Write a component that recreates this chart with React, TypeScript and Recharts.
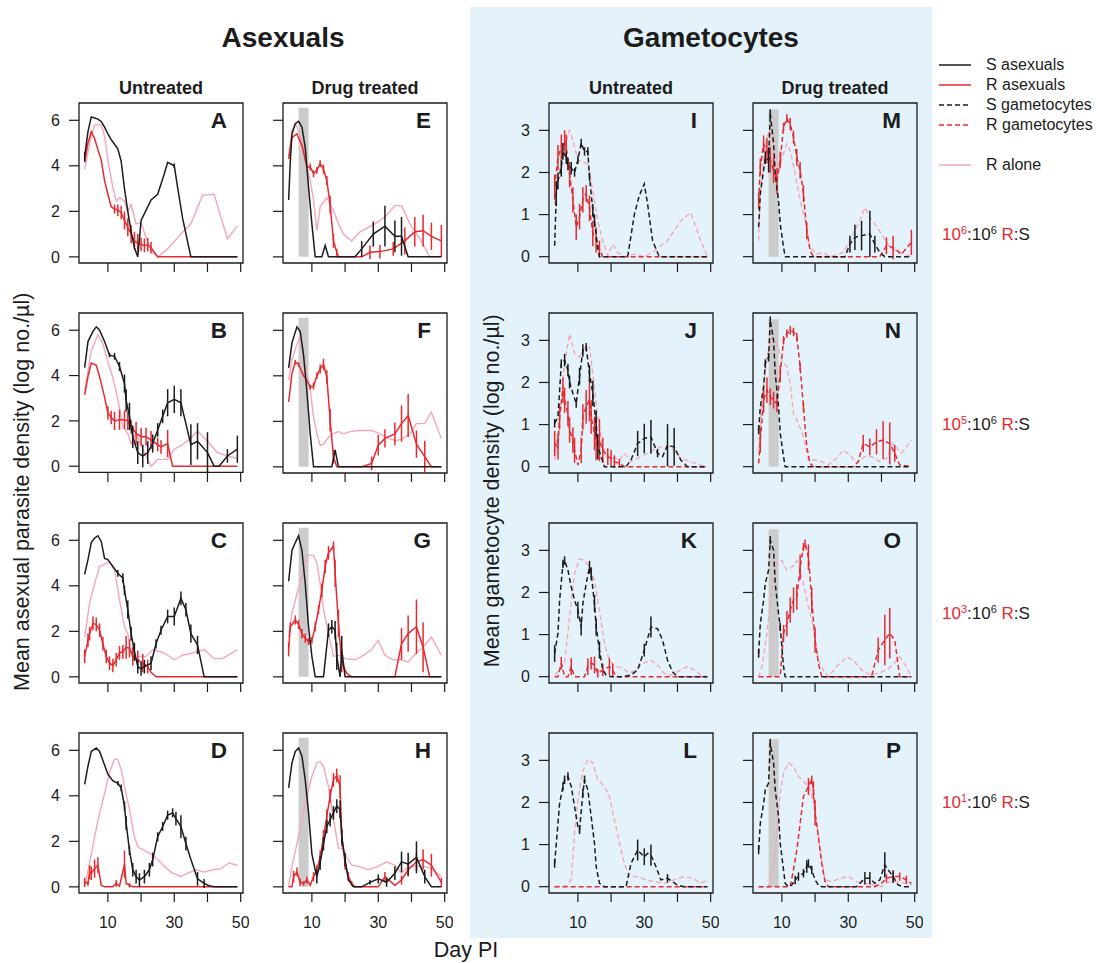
import React from "react";
import { LineChart, Line, XAxis, YAxis, ReferenceArea, ErrorBar } from "recharts";

// each point: [day PI, mean log density, error half-width]
const aS = [[3,4.4,0.2],[4,5.5],[5,6.15],[6,6.1],[7,6.05],[8,5.95],[9,5.7],[10,5.4],[11,5.15],[12,4.95],[13,4.75],[14,4.2],[15,3.0],[16,2.0],[17,1.1],[18,0.4],[19,0],[20,1.6],[21,1.9],[23,2.5],[25,2.75],[27,3.65],[28,4.15],[30,4.0,0.1],[31,3.05],[32.5,1.7],[35,0],[37,0],[39,0],[41,0],[43,0],[45,0],[47,0],[49,0]];
const aR = [[3,4.15],[4,5.0],[5,5.5],[6,5.2],[7,4.7],[8,4.25],[9,3.35],[10,2.75],[11,2.2],[12,2.1,0.2],[13,2.05,0.25],[14,1.95,0.3],[15,1.6,0.4],[16,1.3,0.4],[17,1.0,0.4],[18,0.7,0.4],[19,0.6,0.4],[20,0.55,0.3],[21,0.5,0.3],[22,0.53,0.3],[23,0.4,0.25],[25,0],[28,0],[31,0],[34,0],[37,0],[40,0],[43,0],[46,0],[49,0]];
const aAlone = [[3,3.85],[5,5.3],[6,5.8],[8,5.8],[9,5.3],[10,4.25],[11.5,3.05],[12.5,2.45],[13.5,2.6],[15,2.45],[16,2.0],[17,2.3],[18.5,1.45],[20,1.5],[21.5,0.85],[23,0.25],[25,0],[28,0.35],[32,1.0],[35,1.45],[38.5,2.7],[42,2.75],[46,0.8],[49,1.35]];

const bS = [[3,4.35],[4,5.5],[5.5,5.95],[6.5,6.15],[7.5,6.0],[9,5.5],[10.5,4.9,0.1],[12,4.85,0.15],[13.5,4.4,0.2],[15,3.65,0.4],[15.5,2.9,0.5],[16.5,2.2,0.6],[17.5,1.3,0.5],[19,0.6,0.5],[20.5,0.45,0.5],[22,0.6,0.5],[23.5,1.0,0.4],[25,1.6,0.3],[26.5,2.2,0.3],[28,2.8,0.6],[30,2.95,0.6],[32,2.8,0.6],[35,0.95,0.9],[37,1.1,0.8],[40,0.6,0.9],[42,0],[43.5,0],[46,0.45,0.3],[49,0.75,0.6]];
const bR = [[3,3.15],[4,3.95],[5,4.55],[6.5,4.45],[7.5,3.95],[9,3.05],[10,2.35,0.3],[11,2.15,0.3],[12,2.0,0.4],[13.5,2.05,0.45],[15,2.05,0.4],[16,2.0,0.4],[17,1.75,0.3],[18.5,1.45,0.5],[20,1.3,0.4],[21.5,1.3,0.4],[23,1.15,0.4],[25,0.95,0.3],[26,0.85,0.3],[28,1.0,0.6],[29.5,0],[32,0],[35,0],[38,0],[41,0],[44,0],[47,0],[49,0]];
const bAlone = [[3,3.3],[5,5.1],[7,5.8],[8.5,5.4],[10,4.6],[11.5,3.9],[13,2.95],[14.5,1.75],[16,1.45],[17,1.0],[18.5,1.45],[20,0.9],[21.5,0.45],[23,0],[25,0.3],[28,0.3],[30,0.75],[32.5,0.95],[35,1.25],[37,1.55],[40,1.1],[43,0.6],[46,0.45],[49,0.35]];

const cS = [[3,4.5],[4,5.15],[5,5.9],[6,6.1],[7,6.2],[8,5.95],[9,5.2],[10,5.15],[11.5,4.85],[13,4.55,0.15],[14.5,4.35,0.2],[15,3.8,0.2],[16,2.95,0.4],[17,1.9,0.3],[18,1.1,0.4],[19,0.45,0.3],[20,0.35,0.3],[21,0.45,0.3],[23,0.6,0.3],[24.5,1.45,0.2],[26,2.05,0.2],[28,2.65,0.3],[30,2.65,0.4],[32,3.45,0.3],[33.5,2.95,0.3],[35,1.9,0.4],[37,1.4,0.4],[39,0],[41,0],[43,0],[45,0],[47,0],[49,0]];
const cR = [[3,0.9,0.3],[4,1.6,0.3],[4.5,1.9,0.3],[5.5,2.35,0.3],[6.5,2.3,0.3],[7.5,2.05,0.3],[8.5,1.45,0.3],[9.5,0.9,0.3],[10.5,0.6,0.3],[11.5,0.5,0.3],[12.5,0.75,0.3],[13.5,1.05,0.3],[14.5,1.1,0.3],[15.5,1.3,0.5],[16.5,1.25,0.4],[17.5,0.9,0.4],[19,0.75,0.4],[20.5,0.6,0.4],[22,0.45,0.3],[23,0.2],[24.5,0],[27,0],[30,0],[33,0],[36,0],[39,0],[42,0],[45,0],[49,0]];
const cAlone = [[3,1.75],[4.5,3.25],[6,4.1],[7.5,4.85],[9,4.95],[10.5,5.05],[12,4.7],[13.5,3.4],[15,2.2],[16,1.9],[17.5,0.75],[19.5,0.9],[21.5,0.9],[23.5,1.2],[27,1.05],[30,0.75],[32.5,0.95],[35.5,1.05],[39,1.2],[42,0.8],[44.5,0.8],[49,1.2]];

const dS = [[3,4.5],[4,5.3],[5,5.95],[6.5,6.1],[7.5,5.95],[9,5.35],[10,4.95],[11.5,4.65],[13,4.55,0.1],[14,4.35,0.15],[15,3.55,0.2],[15.5,2.8,0.3],[16.5,1.6,0.2],[17.5,0.75,0.3],[18.5,0.45,0.3],[19.5,0.3,0.3],[21,0.45,0.3],[22.5,0.75,0.3],[23.5,1.2,0.3],[25,2.2,0.2],[26.5,2.65,0.2],[28,3.15,0.2],[29.5,3.25,0.2],[30.5,3.0,0.3],[32,2.65,0.5],[33.5,1.9,0.3],[35,1.2],[37,0.35,0.3],[39,0.15,0.2],[40.5,0.05],[42,0],[45,0],[49,0]];
const dR = [[3,0.2,0.2],[4,0.15,0.1],[4.5,0.65,0.3],[5,0.6,0.3],[6,0.8,0.4],[7,0.95,0.35],[8,0.07],[9,0],[11.5,0],[12.5,0.15,0.15],[13.5,0.03],[15,1.0,0.6],[15.5,0.15],[16.5,0.07,0.1],[17.5,0],[20,0],[25,0],[30,0],[35,0],[40,0],[45,0],[49,0]];
const dAlone = [[3,0],[4.5,1.05],[6,2.2],[7.5,3.25],[9,4.1],[10.5,5.05],[12,5.6],[13,5.6],[14,5.15],[15,4.4],[16.5,3.4],[18,2.2],[19,1.75],[21,1.6],[23,1.45],[25,1.2],[27,0.9],[29,0.65],[32,0.45],[34,0.6],[36.5,0.75],[39,0.65],[41.5,0.75],[44,0.8],[46.5,1.05],[49,0.95]];

const eS = [[3,2.5],[3.5,4.2],[4,5.4],[5,5.85],[6,5.95],[7,5.7],[8,4.8],[9,3.05],[10,1.45],[11,0],[13,0],[14,0.5],[15,0],[17,0],[19,0],[21,0],[23,0],[25,0.35,0.35],[28.5,1.0,0.55],[32,1.35,0.9],[35,0.9,0.7],[37,0.9,0.85],[39,0],[41,0],[43,0],[45,0],[47,0],[49,0]];
const eR = [[3,4.3],[4,5.25],[5.5,5.4],[7,4.9],[8.5,3.95],[9.5,3.95,0.15],[10.5,3.65,0.15],[11.5,3.8,0.15],[12.5,4.1,0.15],[13.5,3.85,0.2],[14.5,3.35,0.2],[15.5,2.3,0.4],[16.5,0.7,0.3],[17.5,0.2,0.15],[18,0],[20,0],[22,0],[25,0],[27.5,0.2,0.3],[30.5,0.23,0.3],[34.5,0.35,0.3],[38,0.7,0.6],[41,1.1,0.65],[43.5,1.15,0.7],[46,0.9,0.6],[49,0.7,0.7]];
const eAlone = [[3,4.4],[4,5.55],[5,5.85],[6,5.55],[7.5,4.8],[8.5,3.95],[9.5,3.35],[10.5,2.5],[11.5,1.15],[12.5,2.2],[14.5,2.6],[16.5,2.05],[18,1.45],[19.5,1.0],[22,0.7],[24.5,1.1],[29,1.45],[32,1.75],[35,2.25],[37,2.25],[39.5,1.45],[42.5,0.8],[45.5,0],[49,0]];

const fS = [[3,4.35],[4,5.45],[5.5,6.15],[6.5,5.95],[7.5,4.9],[8.5,3.3],[9.5,1.45],[10.5,0],[12,0],[14,0],[16,0],[17,0.75],[18,0],[20,0],[23,0],[26,0],[29,0],[32,0],[35,0],[38,0],[41,0],[44,0],[47,0],[49,0]];
const fR = [[3,2.85],[4,4.1],[5,4.6,0.1],[6,4.5,0.1],[7.5,4.0],[8.5,3.8],[9.5,3.5,0.1],[10.5,3.55,0.15],[11.5,4.0,0.15],[12.5,4.3,0.2],[13.5,4.5,0.25],[14.5,3.95,0.3],[15.5,2.05,0.5],[16.5,0.45,0.3],[17.5,0],[20,0],[25,0],[28,0.15,0.3],[30,0.95,0.45],[32,1.25,0.4],[35,1.45,0.5],[37,1.9,0.8],[39,2.25,0.95],[41.5,1.0,0.6],[44,0.45,0.7],[46,0],[49,0]];
const fAlone = [[3,3.8],[4,4.7],[5.5,5.4],[6.5,5.7],[7.5,4.8],[8.5,4.1],[9.5,3.35],[10.5,2.2],[11.5,1.45],[12.5,0.95],[13.5,1.0],[15,1.3],[16.5,1.45],[18,1.55],[19.5,1.45],[21.5,1.55],[24,1.6],[28,1.6],[30.5,1.45],[33,1.25],[35.5,1.15],[37.5,1.25],[39.5,1.45],[41.5,1.9],[44,1.9],[46,2.4],[49,1.25]];

const gS = [[3,4.2],[4,5.55],[5,5.9],[6,6.2],[7,5.55],[8,4.1],[9,2.2],[10,0.9],[11,0],[13.5,0],[15,2.05,0.3],[16,2.2,0.3],[17,2.05,0.4],[17.5,0.9,0.6],[18.5,0],[19,1.2,0.6],[20,0],[23,0],[26,0],[29,0],[32,0],[35,0],[38,0],[41,0],[44,0],[47,0],[49,0]];
const gR = [[3,1.2,0.3],[3.5,2.2,0.2],[5,2.5,0.2],[6,2.3,0.2],[7,1.9,0.2],[8,1.7,0.2],[9,1.55,0.15],[10,1.6,0.15],[11,2.2,0.2],[12,2.95,0.2],[13,3.8,0.3],[14,4.85,0.3],[15,5.45,0.3],[16.5,5.75,0.2],[17,4.55,0.6],[18,2.35,0.6],[19,0.6,0.4],[20.5,0.15],[22,0],[25,0],[28,0],[31,0],[35,0],[37,1.45,0.7],[39,1.9,0.8],[41.5,2.2,1.2],[43.5,1.3,1.1],[45.5,0],[49,0]];
const gAlone = [[3,1.75],[4,2.8],[5.5,3.65],[7,4.4],[8,5.05],[9,5.35],[10.5,5.35],[11.5,5.0],[12.5,4.1],[13.5,2.95],[15,1.9],[16.5,0.9],[18,0.95],[20,0.8],[23,0.75],[25,0.9],[28,1.2],[30,1.6],[32,0.95],[34.5,0.75],[37,0.75],[39,0.65],[41.5,1.05],[43.5,1.3],[46,1.75],[49,0.95]];

const hS = [[3,4.35],[4,5.45],[5,5.95],[6,6.1],[7,5.75],[8,4.7],[9,3.25],[10,1.45],[11,0.75],[11.5,0.45,0.3],[12.5,1.05,0.3],[13.5,1.9,0.3],[14.5,2.65,0.3],[15.5,2.95,0.3],[16.5,3.25,0.3],[17.5,3.55,0.3],[18.5,3.4,0.4],[19,2.2,0.3],[20,1.2,0.3],[21,0.3],[22.5,0],[25,0],[27.5,0.2,0.1],[30,0.35,0.2],[32.5,0.2,0.2],[35,0.6,0.3],[37,1.1,0.45],[39,1.0,0.5],[41.5,1.3,0.7],[44,0.45,0.3],[46,0],[49,0]];
const hR = [[3,0],[4,0],[4.5,0.45,0.25],[5.5,0.65,0.2],[6.5,0.2,0.15],[7.5,0.15,0.1],[8.5,0.3,0.15],[9.5,0.07],[10.5,0.45,0.2],[11.5,0.75,0.2],[12.5,1.3,0.3],[13.5,2.2,0.3],[14.5,3.1,0.3],[15.5,4.0,0.3],[16.5,4.7,0.3],[17.5,4.9,0.3],[18.5,4.4,0.5],[19,2.2,0.4],[20,1.05,0.3],[21,0.45,0.2],[22,0.15,0.1],[23,0],[26,0],[30,0],[32,0.45,0.2],[35,0.07],[37,0.3,0.2],[39,0.75,0.3],[41.5,1.1,0.4],[43.5,1.2,0.45],[46,0.95,0.5],[49,0.2,0.2]];
const hAlone = [[3,0],[4,0.9],[5.5,1.9],[7,2.95],[8.5,4.0],[10,4.85],[11.5,5.45],[12.5,5.5],[13.5,5.3],[15,4.4],[16.5,2.95],[18,1.7],[19,1.7],[20.5,1.3],[22,0.95],[24,0.9],[27,0.75],[30,0.9],[32.5,1.1],[35,0.95],[37,0.6],[39,0.9],[41.5,0.9],[44,0.9],[46,0.8],[49,0.45]];

const iS = [[3,0.26],[3.5,1.5,0.3],[4,1.8,0.2],[5,2.1,0.2],[5.5,2.5,0.2],[6.5,2.35,0.15],[7,2.2,0.15],[8,2.1,0.15],[9,2.0,0.1],[10,2.3,0.1],[11,2.7,0.1],[12,2.5,0.1],[13,2.5,0.1],[13.5,1.9,0.1],[14.5,1.1,0.15],[15,0.85,0.15],[16,0.2],[16.5,0],[19,0],[22,0],[25,0],[27,1.0],[28.5,1.45],[30,1.73],[31,1.25],[32.5,0.38],[34.5,0],[37,0],[40,0],[43,0],[46,0],[49,0]];
const iR = [[3,1.65,0.3],[4,2.35,0.3],[5,2.6,0.3],[6,2.75,0.25],[6.5,2.6,0.3],[7.5,1.95,0.3],[8.5,1.35,0.3],[9.5,0.7,0.3],[10.5,0.95,0.3],[11.5,1.35,0.3],[12.5,1.5,0.2],[13.5,1.15,0.3],[14.5,0.55,0.3],[15.5,0.4,0.3],[16.5,0.18,0.2],[17.5,0],[20,0],[25,0],[30,0],[35,0],[40,0],[45,0],[49,0]];
const iAlone = [[3,1.25],[4.5,2.05],[6,2.6],[7.5,3.0],[8.5,2.75],[10,2.3],[11.5,2.25],[13,2.2],[14.5,1.55],[16,0.85],[17.5,0.38],[19,0.02],[20.5,0.3],[22,0.1],[24,0],[27,0.06],[30,0],[33,0.14],[37,0.38],[41,0.85],[44,1.05],[47,0.38],[49,0]];

const jS = [[3,1.03,0.1],[4,1.18],[5,2.45,0.1],[6,2.53,0.15],[7,2.29,0.15],[7.5,2.01,0.15],[8.5,1.74],[9.5,1.5,0.1],[10.5,2.15,0.2],[11.5,2.76,0.15],[12.5,2.84,0.1],[13.5,2.21,0.2],[14.5,1.74,0.3],[15.5,1.03,0.3],[16,0.47,0.3],[17,0.24],[18,0],[21,0],[24.5,0],[26,0.16],[28,0.55,0.3],[30,0.67,0.35],[32,0.71,0.4],[34,0.32,0.1],[35.5,0.24],[37,0.51,0.5],[39,0.47,0.45],[41,0.16],[43,0],[46,0],[49,0]];
const jR = [[3,0.55,0.3],[4,0.47,0.3],[4.5,1.18,0.3],[5.5,1.82,0.3],[6,1.58,0.3],[7,1.26,0.3],[7.5,0.87,0.3],[8.5,0.63,0.3],[9,0.39,0.3],[10,0.04],[11,0.39,0.3],[11.5,1.18,0.3],[12.5,1.42,0.4],[13.5,1.58,0.5],[14,1.18,0.4],[15,0.79,0.4],[15.5,0.55,0.4],[16.5,0.63,0.5],[17.5,0.39,0.3],[19,0.24,0.2],[20,0.2,0.2],[21,0.12,0.15],[22.5,0.08,0.1],[24,0],[28,0],[32,0],[36,0],[40,0],[44,0],[49,0]];
const jAlone = [[3,0.16],[4.5,1.18],[6,2.45],[7.5,3.16],[9,2.68],[10.5,2.6],[12,2.84],[13.5,2.84],[14.5,2.21],[16,1.18],[17.5,0.47],[19,0.2],[21,0.2],[22.5,0.16],[24,0.32],[26,0.12],[28,0.2],[30,0.28],[32.5,0.39],[35,0.47],[38,0.47],[41,0.2],[44,0.12],[47,0.04],[49,0]];

const kS = [[3,0.55,0.2],[4,1.03],[4.5,1.82],[5.5,2.68,0.1],[6,2.76,0.1],[7,2.53],[8,2.13],[9,1.82],[10,1.58,0.2],[11,1.18,0.2],[11.5,1.74],[12.5,2.21],[13.5,2.6,0.15],[14,2.45,0.15],[15,1.74,0.2],[15.5,1.18,0.2],[16.5,0.63,0.2],[17.5,0.16],[18.5,0.04],[20,0],[23.5,0],[26,0.04],[28,0.16],[30,0.63,0.15],[32,1.18,0.25],[34,1.14],[35.5,0.87],[37,0.39],[38.5,0.12],[40,0],[43,0],[46,0],[49,0]];
const kR = [[3,0],[4,0],[5,0.32,0.15],[6,0],[7,0],[8,0.24,0.2],[9,0],[11,0],[12,0],[13,0.24,0.2],[14,0.32,0.15],[15,0.28,0.2],[16,0.08,0.1],[17.5,0.16,0.15],[19.5,0.24,0.2],[20.5,0.16,0.15],[21.5,0],[25,0],[30,0],[35,0],[40,0],[45,0],[49,0]];
const kAlone = [[3,0.04],[4.5,0.16],[6,0.32],[7.5,1.42],[9,2.45],[10.5,2.8],[12,2.76],[13.5,2.6],[15,2.29],[16.5,1.58],[18,0.79],[19.5,0.39],[21.5,0.24],[23.5,0.2],[25.5,0.08],[27.5,0.16],[29.5,0.32],[32,0.39],[34,0.28],[36,0.08],[38,0.04],[40,0.12],[43,0.24],[45,0.16],[47,0.04],[49,0]];

const lS = [[3,0.55,0.1],[4,1.5],[4.5,1.98],[5.5,2.38,0.1],[6,2.54,0.1],[7,2.62,0.1],[8,2.38],[9,1.9],[10,1.43],[10.5,1.35,0.1],[11.5,2.22,0.1],[12,2.54,0.1],[13,2.3],[14,1.67],[15,1.03],[15.5,0.48],[16.5,0.08],[18,0],[21,0],[24.5,0],[26,0.55],[28,0.87,0.25],[29,0.79],[30,0.71,0.2],[31,0.79],[32,0.75,0.25],[33.5,0.48],[35,0.16],[37,0.2,0.1],[38.5,0.12],[40,0.04],[42,0],[45,0],[49,0]];
const lR = [[3,0],[10,0],[20,0],[30,0],[40,0],[49,0]];
const lAlone = [[3,0],[6.5,0.02],[8,0.16],[9,1.27],[10,2.06],[11.5,2.75],[13,3.02],[14.5,2.94],[16,2.54],[18,2.38],[19.5,2.14],[21,1.59],[22.5,1.03],[24,0.55],[25.5,0.24],[28,0.24],[30.5,0.16],[33,0.12],[36,0.08],[39,0.16],[42,0.24],[44.5,0.2],[47,0.08],[49,0.16]];

const mS = [[3,0.7],[3.5,1.5],[4.5,2.05],[5,2.35,0.15],[6,2.3,0.3],[6.5,3.4,0.1],[7.5,2.7],[8,1.95],[9,1.33],[9.5,0.78],[10.5,0.22],[11,0],[14,0],[17,0],[20,0],[23,0],[26,0],[29,0],[30.5,0.3,0.2],[32,0.46,0.3],[34,0.5,0.35],[36.5,0.54,0.55],[38,0.3,0.2],[39.5,0.1],[41,0],[44,0],[47,0],[49,0]];
const mR = [[3,1.33,0.2],[3.5,2.13,0.2],[4.5,2.68,0.2],[5.5,2.52,0.3],[6.5,2.3,0.3],[7.5,2.05,0.3],[8.5,1.8,0.3],[9.5,2.3,0.2],[10.5,3.08,0.1],[11.5,3.28,0.1],[12.5,3.15,0.15],[13.5,2.84,0.15],[14.5,2.36,0.2],[15.5,2.05,0.2],[16.5,1.5,0.2],[17.5,0.62,0.2],[18.5,0.14],[19.5,0],[23,0],[27,0],[31,0],[35,0],[39.5,0],[41.5,0.26,0.2],[43.5,0.22,0.28],[46,0.06],[49,0.34,0.3]];
const mAlone = [[3,0.38],[3.5,1.5],[4.5,2.3],[5.5,2.84],[6.5,3.0],[7.5,2.6],[9,2.05],[10.5,2.45],[11.5,2.68],[12.5,2.52],[14,1.97],[15.5,1.33],[17,0.86],[18.5,0.22],[20.5,0.06],[22.5,0.1],[24.5,0],[28.5,0.1],[31.5,0.54],[33.5,0.86],[35,1.17],[36.5,0.94],[38,0.78],[40,0.54],[42.5,0.22],[45.5,0.1],[49,0]];

const nS = [[3,0.87,0.1],[3.5,1.42],[4.5,1.89],[5,2.45,0.1],[6,2.6,0.1],[6.5,3.47,0.1],[7.5,3.0],[8,2.21],[9,1.42],[9.5,0.79],[10.5,0.24],[11,0],[15,0],[20,0],[25,0],[30,0],[35,0],[40,0],[45,0],[49,0]];
const nR = [[3,0.08],[3.5,0.63,0.3],[4.5,1.58,0.3],[5.5,1.82,0.3],[6.5,1.66,0.2],[7.5,1.58,0.2],[8.5,1.5,0.2],[9.5,2.21,0.2],[10.5,3.0,0.1],[11.5,3.16,0.1],[12.5,3.24,0.1],[13.5,3.2,0.1],[14.5,3.08,0.1],[15.5,2.37,0.1],[16.5,1.42,0.1],[17.5,0.47],[18.5,0.08],[19.5,0],[23,0],[27,0],[31.5,0],[33,0.12],[34.5,0.55,0.2],[36.5,0.47,0.2],[38.5,0.59,0.3],[40.5,0.63,0.45],[42.5,0.55,0.5],[44,0.32,0.2],[45.5,0.04],[49,0]];
const nAlone = [[3,0.39],[4,1.58],[5.5,2.6],[7,3.08],[8.5,2.92],[10,2.53],[11.5,2.37],[12.5,1.97],[13.5,1.26],[15,1.03],[16.5,0.71],[18,0.16],[20,0.16],[22,0.12],[24,0.04],[26.5,0.2],[28.5,0.39],[30.5,0.28],[32.5,0.08],[35,0.24],[37,0.24],[39.5,0.12],[41.5,0.2],[43.5,0.55],[46,0.32],[49,0.63]];

const oS = [[3,0.55,0.1],[3.5,1.26],[4.5,1.82],[5,2.21],[6,2.53],[6.5,3.24,0.1],[7.5,3.0],[8,2.21],[9,1.5],[9.5,1.18,0.1],[10.5,0.24],[11,0],[15,0],[20,0],[25,0],[30,0],[35,0],[40,0],[45,0],[49,0]];
const oR = [[3,0],[6,0],[9.5,0],[10.5,1.03,0.2],[11.5,1.26,0.3],[12.5,1.58,0.3],[13.5,1.82,0.3],[14.5,1.89,0.3],[15.5,2.6,0.3],[16.5,3.08,0.1],[17,3.16,0.1],[18,2.84,0.3],[19,1.82,0.3],[20,0.87,0.3],[21,0.32],[22,0],[26,0],[30,0],[34,0],[37,0],[39,0.63,0.3],[41,0.87,0.6],[42.5,1.03,0.6],[44,0.87],[45.5,0],[49,0]];
const oAlone = [[3,0],[4,0.24],[5.5,1.03],[7,2.13],[8.5,2.72],[10,2.76],[11.5,2.53],[13,2.6],[14.5,2.76],[16,2.37],[18,1.66],[19.5,1.18],[21,0.39],[22.5,0.16],[24,0],[26.5,0.24],[29.5,0.47],[31.5,0.39],[34,0.16],[36.5,0.04],[39,0.08],[41.5,0.16],[43.5,0.28],[45.5,0.47],[47.5,0.24],[49,0]];

const pS = [[3,0.87,0.1],[3.5,1.5],[4.5,1.98],[5,2.3],[6,2.46],[6.5,3.41,0.1],[7.5,2.94],[8,2.3],[9,1.67],[9.5,1.03],[10.5,0.4],[11,0.08],[12,0],[13,0.04],[14,0.16,0.1],[15,0.24,0.1],[16.5,0.32,0.1],[17.5,0.48,0.15],[18,0.55,0.1],[19,0.4,0.1],[20,0.16],[21,0.04],[22,0],[26,0],[30,0],[32.5,0],[34,0.12],[35,0.2,0.15],[36.5,0.2,0.15],[38,0.08],[39.5,0.16],[41,0.52,0.3],[42,0.4],[43.5,0.24,0.15],[45,0.04],[46.5,0],[49,0]];
const pR = [[3,0],[8,0],[12.5,0],[13.5,0.4],[14.5,0.87],[15.5,1.5],[16.5,2.14],[18,2.38,0.2],[19,2.54,0.1],[19.5,2.3,0.2],[20,1.75,0.3],[21,1.19],[22,0.55],[23,0.12],[24,0],[28,0],[33,0],[38,0],[40,0.08],[41.5,0.2,0.1],[43.5,0.24,0.1],[45.5,0.24,0.1],[47.5,0.16,0.1],[49,0.08]];
const pAlone = [[3,0],[6,0],[7.5,0.48],[8.5,1.27],[9.5,2.22],[10.5,2.7],[12,2.94],[13.5,2.86],[15,2.62],[17,2.46],[18.5,2.34],[20,1.83],[21.5,0.87],[23,0.16],[25,0.12],[27.5,0.2],[30,0.24],[32.5,0.12],[35,0.08],[37.5,0.04],[40,0],[42.5,0.12],[45,0.12],[47.5,0.08],[49,0.04]];

const dayTicks = [10, 20, 30, 40, 50];
const dayLabels = [10, 30, 50];
const asexTicks = [0, 2, 4, 6];
const gamTicks = [0, 1, 2, 3];
const ratioLabels = ["6", "5", "3", "1"];

const BLACK = "#1c1c1c";
const RED = "#e8292f";
const PINK = "#f5a6b8";
const GREY = "#cbcbcb";
const BLUE = "#e4f3fb";
const FONT = "'Liberation Sans', Arial, Helvetica, sans-serif";

const colLeft = [79, 283, 549, 753];
const rowTop = [103, 313, 523, 733];
const BOX_W = 164;
const BOX_H = 160;

const panels = [
  { id: "A", col: 0, row: 0, s: aS, r: aR, alone: aAlone },
  { id: "B", col: 0, row: 1, s: bS, r: bR, alone: bAlone },
  { id: "C", col: 0, row: 2, s: cS, r: cR, alone: cAlone },
  { id: "D", col: 0, row: 3, s: dS, r: dR, alone: dAlone },
  { id: "E", col: 1, row: 0, s: eS, r: eR, alone: eAlone },
  { id: "F", col: 1, row: 1, s: fS, r: fR, alone: fAlone },
  { id: "G", col: 1, row: 2, s: gS, r: gR, alone: gAlone },
  { id: "H", col: 1, row: 3, s: hS, r: hR, alone: hAlone },
  { id: "I", col: 2, row: 0, s: iS, r: iR, alone: iAlone },
  { id: "J", col: 2, row: 1, s: jS, r: jR, alone: jAlone },
  { id: "K", col: 2, row: 2, s: kS, r: kR, alone: kAlone },
  { id: "L", col: 2, row: 3, s: lS, r: lR, alone: lAlone },
  { id: "M", col: 3, row: 0, s: mS, r: mR, alone: mAlone },
  { id: "N", col: 3, row: 1, s: nS, r: nR, alone: nAlone },
  { id: "O", col: 3, row: 2, s: oS, r: oR, alone: oAlone },
  { id: "P", col: 3, row: 3, s: pS, r: pR, alone: pAlone },
];

const toRows = (pts: number[][]) => pts.map(([d, v, e]) => ({ d, v, e: e ?? 0 }));

function Panel({ p }: { p: (typeof panels)[number] }) {
  const gam = p.col >= 2;
  const drug = p.col % 2 === 1;
  const bottom = p.row === 3;
  const yDom = gam ? [-0.15, 3.65] : [-0.27, 6.76];
  const xDom = [1.3, 50.7];
  const dash = gam ? "5 3" : undefined;
  const left = colLeft[p.col];
  const top = rowTop[p.row];

  return (
    <>
      <div style={{ position: "absolute", left: left - 60, top: top - 5 }}>
        <LineChart
          width={BOX_W + 66}
          height={BOX_H + 50}
          margin={{ top: 5, right: 6, bottom: 0, left: 0 }}
        >
          <XAxis
            type="number"
            dataKey="d"
            domain={xDom}
            ticks={dayTicks}
            interval={0}
            height={45}
            axisLine={false}
            tickSize={9}
            tickMargin={15}
            tickLine={{ stroke: BLACK, strokeWidth: 1.2 }}
            tick={{ fill: BLACK, fontSize: 16, fontFamily: FONT }}
            tickFormatter={(v: number) => (bottom && dayLabels.includes(v) ? String(v) : "")}
          />
          <YAxis
            type="number"
            domain={yDom}
            ticks={gam ? gamTicks : asexTicks}
            interval={0}
            width={60}
            axisLine={false}
            tickSize={10}
            tickMargin={9}
            tickLine={{ stroke: BLACK, strokeWidth: 1.2 }}
            tick={{ fill: BLACK, fontSize: 16, fontFamily: FONT }}
            tickFormatter={(v: number) => (drug ? "" : String(v))}
          />
          {drug && (
            <ReferenceArea
              x1={6}
              x2={9}
              y1={0}
              y2={gam ? 3.5 : 6.55}
              fill={GREY}
              fillOpacity={1}
              stroke="none"
            />
          )}
          <Line
            data={toRows(p.alone)}
            dataKey="v"
            stroke={PINK}
            strokeWidth={1.4}
            strokeDasharray={dash}
            dot={false}
            isAnimationActive={false}
          />
          <Line
            data={toRows(p.r)}
            dataKey="v"
            stroke={RED}
            strokeWidth={1.5}
            strokeDasharray={dash}
            dot={false}
            isAnimationActive={false}
          >
            <ErrorBar dataKey="e" direction="y" width={0} stroke={RED} strokeWidth={1.5} isAnimationActive={false} />
          </Line>
          <Line
            data={toRows(p.s)}
            dataKey="v"
            stroke={BLACK}
            strokeWidth={1.5}
            strokeDasharray={dash}
            dot={false}
            isAnimationActive={false}
          >
            <ErrorBar dataKey="e" direction="y" width={0} stroke={BLACK} strokeWidth={1.5} isAnimationActive={false} />
          </Line>
          <ReferenceArea
            x1={xDom[0]}
            x2={xDom[1]}
            y1={yDom[0]}
            y2={yDom[1]}
            fill="none"
            stroke={BLACK}
            strokeWidth={1.3}
          />
        </LineChart>
      </div>
      <div
        style={{
          position: "absolute",
          left: left + BOX_W - 16 - 40,
          top: top + 7,
          width: 40,
          textAlign: "right",
          fontSize: 22.5,
          lineHeight: "22px",
          fontWeight: "bold",
          color: BLACK,
        }}
      >
        {p.id}
      </div>
    </>
  );
}

const text = (extra: React.CSSProperties): React.CSSProperties => ({
  position: "absolute",
  lineHeight: 1,
  color: BLACK,
  whiteSpace: "nowrap",
  ...extra,
});

const legendRows = [
  { label: "S asexuals", color: BLACK, dash: false, y: 65 },
  { label: "R asexuals", color: RED, dash: false, y: 84.5 },
  { label: "S gametocytes", color: BLACK, dash: true, y: 105 },
  { label: "R gametocytes", color: RED, dash: true, y: 125 },
  { label: "R alone", color: PINK, dash: false, y: 165 },
];

const ratioBaselines = [240, 430, 619, 808];

export default function App() {
  const subTitles = ["Untreated", "Drug treated", "Untreated", "Drug treated"];
  return (
    <div
      style={{
        position: "absolute",
        left: 0,
        top: 0,
        width: 1103,
        height: 963,
        background: "#ffffff",
        fontFamily: FONT,
        overflow: "hidden",
      }}
    >
      <div style={{ position: "absolute", left: 470, top: 7, width: 462, height: 931, background: BLUE }} />

      <div style={text({ left: 183, width: 200, textAlign: "center", top: 24.3, fontSize: 28, fontWeight: "bold" })}>Asexuals</div>
      <div style={text({ left: 611, width: 200, textAlign: "center", top: 24.3, fontSize: 28, fontWeight: "bold" })}>Gametocytes</div>
      {subTitles.map((t, i) => (
        <div
          key={i}
          style={text({ left: colLeft[i] + BOX_W / 2 - 100, width: 200, textAlign: "center", top: 78.8, fontSize: 18, fontWeight: "bold" })}
        >
          {t}
        </div>
      ))}

      {panels.map((p) => (
        <Panel key={p.id} p={p} />
      ))}

      <div
        style={text({
          left: 22.5 - 250,
          top: 492 - 10.75,
          width: 500,
          textAlign: "center",
          fontSize: 21.5,
          transform: "rotate(-90deg)",
        })}
      >
        Mean asexual parasite density (log no./µl)
      </div>
      <div
        style={text({
          left: 492.5 - 250,
          top: 490.5 - 10.75,
          width: 500,
          textAlign: "center",
          fontSize: 21.5,
          transform: "rotate(-90deg)",
        })}
      >
        Mean gametocyte density (log no./µl)
      </div>
      <div style={text({ left: 416, width: 100, textAlign: "center", top: 958 - 18.2, fontSize: 21.5 })}>Day PI</div>

      {legendRows.map((r) => (
        <div key={r.label} style={{ position: "absolute", left: 939, top: r.y - 10, height: 20, display: "flex", alignItems: "center" }}>
          <svg width={32} height={20}>
            <line
              x1={0}
              x2={32}
              y1={10}
              y2={10}
              stroke={r.color}
              strokeWidth={1.5}
              strokeDasharray={r.dash ? "5 3" : undefined}
            />
          </svg>
          <span style={{ marginLeft: 15, fontSize: 16, color: BLACK, whiteSpace: "nowrap" }}>{r.label}</span>
        </div>
      ))}

      {ratioLabels.map((e, i) => (
        <div key={e} style={text({ left: 942, top: ratioBaselines[i] - 14.4, fontSize: 17 })}>
          <span style={{ color: RED }}>
            10<sup style={{ fontSize: 11, verticalAlign: "6px", lineHeight: 0 }}>{e}</sup>
          </span>
          :10<sup style={{ fontSize: 11, verticalAlign: "6px", lineHeight: 0 }}>6</sup>{" "}
          <span style={{ color: RED }}>R</span>:S
        </div>
      ))}
    </div>
  );
}
